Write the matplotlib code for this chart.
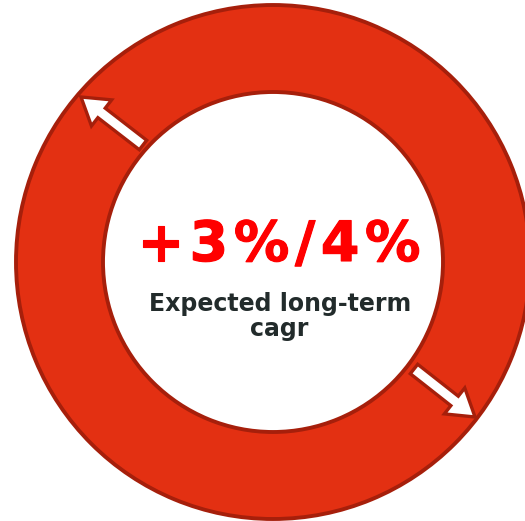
import matplotlib
matplotlib.use("Agg")
import matplotlib.pyplot as plt
from matplotlib.patches import FancyArrow
import matplotlib.patheffects as pe

# Data / text content
headline = "+3%/4%"
subtitle_lines = ["Expected long-term", "cagr"]
ring_share = [1.0]

# Styles
RING_FILL = "#e33012"
RING_EDGE = "#a61f0b"
HEAD_COLOR = "#ff0000"
SUB_COLOR = "#222b2b"

W, H = 525, 521
fig = plt.figure(figsize=(W / 100, H / 100), dpi=100)
ax = fig.add_axes([0, 0, 1, 1])

cx, cy, r_out, r_in = 273, 262, 257, 170
ax.pie(ring_share, radius=r_out, center=(cx, cy), colors=[RING_FILL],
       startangle=90, frame=True,
       wedgeprops=dict(width=r_out - r_in, edgecolor=RING_EDGE, linewidth=2.8))

ax.set_xlim(0, W)
ax.set_ylim(H, 0)
ax.set_aspect("equal")
ax.axis("off")

# arrows (tail -> tip)
arrows = [((143, 145), (81, 97)), ((414, 369), (475, 417))]
for (x0, y0), (x1, y1) in arrows:
    a = FancyArrow(x0, y0, x1 - x0, y1 - y0, width=12, head_width=33,
                   head_length=26, length_includes_head=True,
                   fc="white", ec=RING_EDGE, lw=2.4, zorder=5)
    ax.add_patch(a)

renderer = fig.canvas.get_renderer()


def tracked_text(s, xc, yb, size, color, total_width, stroke):
    objs = [ax.text(0, yb, ch, fontsize=size, fontweight="bold", color=color,
                    ha="left", va="baseline", family="DejaVu Sans",
                    path_effects=[pe.withStroke(linewidth=stroke, foreground=color)])
            for ch in s]
    widths = [o.get_window_extent(renderer).width for o in objs]
    gap = (total_width - sum(widths)) / max(len(s) - 1, 1)
    x = xc - total_width / 2
    for o, w in zip(objs, widths):
        o.set_x(x)
        x += w + gap


tracked_text(headline, 279, 261, 40, HEAD_COLOR, 283, 0.8)

ax.text(280, 311, subtitle_lines[0], color=SUB_COLOR, fontsize=17,
        fontweight="bold", ha="center", va="baseline", family="DejaVu Sans")
ax.text(279, 336, subtitle_lines[1], color=SUB_COLOR, fontsize=17,
        fontweight="bold", ha="center", va="baseline", family="DejaVu Sans")

fig.savefig("out.png", dpi=100, facecolor="white")
